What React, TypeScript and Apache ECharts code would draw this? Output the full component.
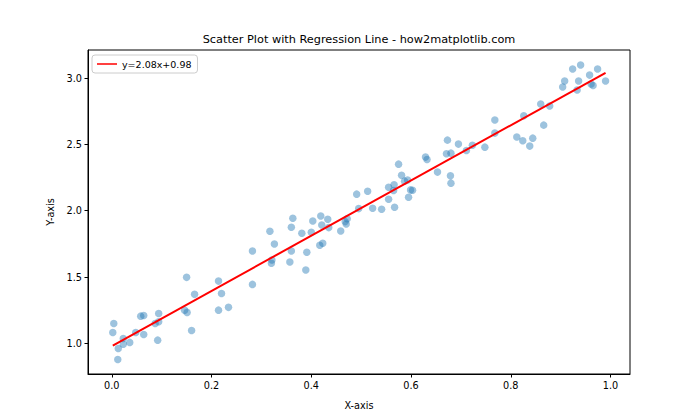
import React, { useEffect, useRef } from "react";
import * as echarts from "echarts";

const xValues = [
  0.004, 0.002, 0.013, 0.012, 0.023, 0.023, 0.036, 0.048, 0.058, 0.064,
  0.064, 0.087, 0.094, 0.094, 0.092, 0.150, 0.146, 0.151, 0.160, 0.166,
  0.214, 0.214, 0.234, 0.220, 0.282, 0.282, 0.317, 0.326, 0.321, 0.320,
  0.357, 0.360, 0.360, 0.363, 0.381, 0.389, 0.391, 0.400, 0.403, 0.419,
  0.421, 0.433, 0.435, 0.417, 0.423, 0.459, 0.468, 0.470, 0.472, 0.491,
  0.495, 0.513, 0.523, 0.541, 0.555, 0.555, 0.566, 0.565, 0.567, 0.575,
  0.581, 0.587, 0.593, 0.599, 0.603, 0.595, 0.629, 0.632, 0.653, 0.671,
  0.679, 0.680, 0.768, 0.768, 0.826, 0.866, 0.812, 0.824, 0.844, 0.838,
  0.748, 0.723, 0.711, 0.695, 0.673, 0.680, 0.860, 0.878, 0.924, 0.940,
  0.974, 0.958, 0.908, 0.904, 0.936, 0.933, 0.961, 0.965, 0.990,
];

const yValues = [
  1.151, 1.083, 0.962, 0.879, 1.038, 0.995, 1.008, 1.083, 1.206, 1.211,
  1.068, 1.151, 1.226, 1.163, 1.025, 1.498, 1.251, 1.234, 1.098, 1.370,
  1.470, 1.251, 1.272, 1.377, 1.697, 1.445, 1.845, 1.749, 1.629, 1.604,
  1.614, 1.697, 1.875, 1.943, 1.830, 1.553, 1.687, 1.838, 1.923, 1.961,
  1.893, 1.936, 1.873, 1.740, 1.755, 1.847, 1.918, 1.900, 1.940, 2.125,
  2.016, 2.147, 2.019, 2.011, 2.087, 2.177, 2.195, 2.152, 2.026, 2.351,
  2.268, 2.223, 2.232, 2.157, 2.155, 2.102, 2.404, 2.386, 2.291, 2.429,
  2.263, 2.208, 2.683, 2.585, 2.715, 2.645, 2.555, 2.527, 2.547, 2.487,
  2.479, 2.494, 2.454, 2.502, 2.532, 2.434, 2.804, 2.789, 3.068, 3.098,
  3.068, 3.022, 2.977, 2.932, 2.977, 2.909, 2.955, 2.944, 2.977,
];

const slope = 2.08;
const intercept = 0.98;
const lineName = "y=2.08x+0.98";

const xTicks = [0.0, 0.2, 0.4, 0.6, 0.8, 1.0];
const yTicks = [1.0, 1.5, 2.0, 2.5, 3.0];

const titleText = "Scatter Plot with Regression Line - how2matplotlib.com";
const FONT = "DejaVu Sans";

export default function App() {
  const ref = useRef<HTMLDivElement>(null);

  useEffect(() => {
    if (!ref.current) return;
    const chart = echarts.init(ref.current, null, { renderer: "svg" });

    const points = xValues.map((x, i) => [x, yValues[i]]);
    const xMin = Math.min(...xValues);
    const xMax = Math.max(...xValues);
    const lineData = [
      [xMin, slope * xMin + intercept],
      [xMax, slope * xMax + intercept],
    ];

    const axisCommon = {
      type: "value" as const,
      splitLine: { show: false },
      axisLine: { show: true, onZero: false, lineStyle: { color: "#000", width: 1 } },
    };

    chart.setOption({
      animation: false,
      backgroundColor: "#fff",
      textStyle: { fontFamily: FONT },
      grid: {
        left: 88,
        right: 70,
        top: 50,
        bottom: 46,
        show: true,
        borderColor: "#000",
        borderWidth: 1,
        backgroundColor: "transparent",
      },
      graphic: [
        {
          type: "text",
          x: 359,
          y: 45,
          style: {
            text: titleText,
            textAlign: "center",
            textVerticalAlign: "bottom",
            fontFamily: FONT,
            fontSize: 11.3,
            fill: "#000",
          },
        },
      ],
      legend: {
        show: true,
        data: [{ name: lineName, icon: "rect" }],
        left: 92,
        top: 55,
        orient: "vertical",
        itemWidth: 20,
        itemHeight: 1.5,
        padding: [4, 6, 4, 5],
        backgroundColor: "rgba(255,255,255,0.8)",
        borderColor: "#cccccc",
        borderWidth: 1,
        borderRadius: 3,
        textStyle: { fontFamily: FONT, fontSize: 9.5, color: "#000" },
      },
      xAxis: {
        ...axisCommon,
        min: -0.0477,
        max: 1.039,
        name: "X-axis",
        nameLocation: "middle",
        nameGap: 26,
        nameTextStyle: { fontFamily: FONT, fontSize: 9.7, color: "#000" },
        axisTick: {
          show: true,
          customValues: xTicks,
          length: 3.5,
          lineStyle: { color: "#000", width: 1 },
        },
        axisLabel: {
          show: true,
          customValues: xTicks,
          margin: 6,
          fontFamily: FONT,
          fontSize: 9.7,
          color: "#000",
          formatter: (v: number) => v.toFixed(1),
        },
      },
      yAxis: {
        ...axisCommon,
        min: 0.77,
        max: 3.211,
        name: "Y-axis",
        nameLocation: "middle",
        nameGap: 33,
        nameTextStyle: { fontFamily: FONT, fontSize: 9.7, color: "#000" },
        axisTick: {
          show: true,
          customValues: yTicks,
          length: 3.5,
          lineStyle: { color: "#000", width: 1 },
        },
        axisLabel: {
          show: true,
          customValues: yTicks,
          margin: 6,
          fontFamily: FONT,
          fontSize: 9.7,
          color: "#000",
          formatter: (v: number) => v.toFixed(1),
        },
      },
      series: [
        {
          type: "scatter",
          name: "data",
          data: points,
          symbolSize: 7.5,
          itemStyle: { color: "rgba(31,119,180,0.55)" },
          z: 2,
        },
        {
          type: "line",
          name: lineName,
          data: lineData,
          showSymbol: false,
          symbol: "none",
          lineStyle: { color: "#ff0000", width: 2 },
          itemStyle: { color: "#ff0000" },
          z: 3,
        },
      ],
    });

    return () => chart.dispose();
  }, []);

  return (
    <div
      ref={ref}
      style={{ position: "fixed", left: 0, top: 0, width: 700, height: 420 }}
    />
  );
}
